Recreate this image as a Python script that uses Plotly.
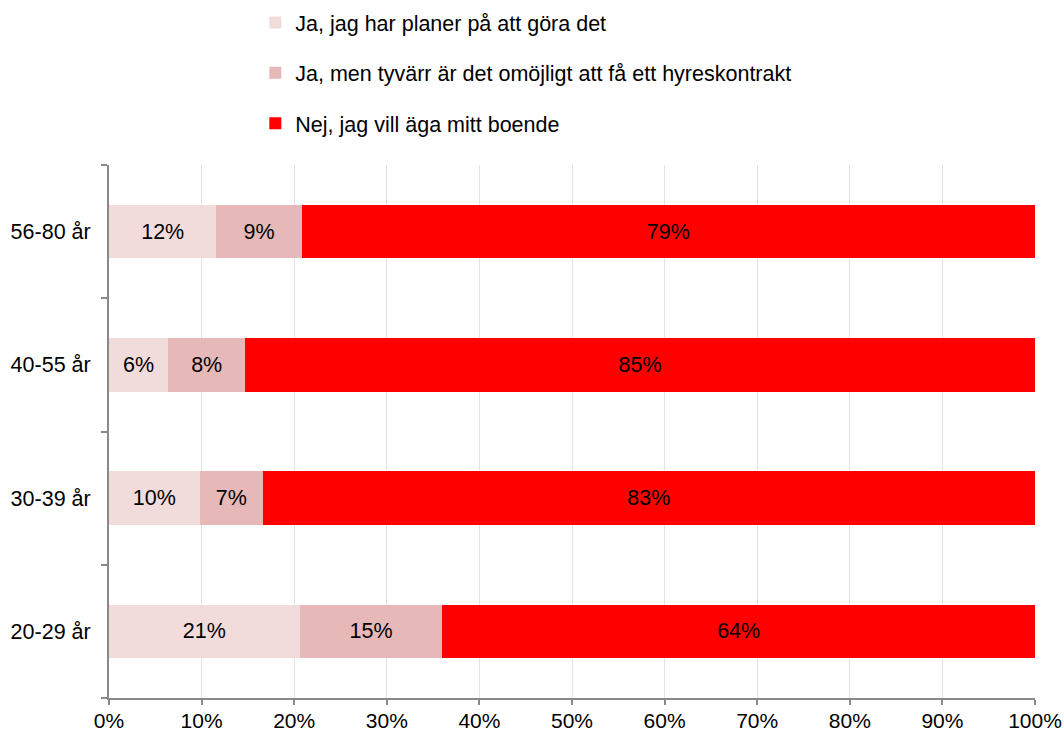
import plotly.graph_objects as go

categories = ["20-29 år", "30-39 år", "40-55 år", "56-80 år"]
series_names = [
    "Ja, jag har planer på att göra det",
    "Ja, men tyvärr är det omöjligt att få ett hyreskontrakt",
    "Nej, jag vill äga mitt boende",
]
planer = [20.6, 9.8, 6.4, 11.6]
omojligt = [15.4, 6.8, 8.3, 9.2]
aga = [64.0, 83.4, 85.3, 79.2]
colors = ["#F2DCDB", "#E6B9B8", "#FF0000"]
x_ticks = list(range(0, 101, 10))
x_tick_labels = [f"{v}%" for v in x_ticks]

FONT = "Liberation Sans, Arial, sans-serif"
FS = 21.5

fig = go.Figure()
for i, (name, vals) in enumerate(zip(series_names, [planer, omojligt, aga])):
    fig.add_trace(go.Bar(
        y=categories, x=vals, name=name, orientation="h",
        marker=dict(color=colors[i], line=dict(width=0)),
        texttemplate="%{x:.0f}%", textposition="inside",
        insidetextanchor="middle", constraintext="none",
        textfont=dict(family=FONT, size=FS, color="black"),
        legendgroup=f"g{i}", hoverinfo="skip",
    ))

fig.update_layout(
    width=1064, height=734,
    barmode="stack", bargap=0.6,
    plot_bgcolor="white", paper_bgcolor="white",
    margin=dict(l=109, r=29, t=165, b=36, autoexpand=False),
    font=dict(family=FONT, size=FS, color="black"),
    legend=dict(
        orientation="v", traceorder="grouped",
        x=0.158, xanchor="left", xref="paper",
        y=1.306, yanchor="top", yref="paper",
        tracegroupgap=19.5, font=dict(family=FONT, size=FS, color="black"),
        itemwidth=30,
    ),
    xaxis=dict(
        range=[0, 100], tickvals=x_ticks, ticktext=x_tick_labels,
        showgrid=True, gridcolor="#E3E3E3", gridwidth=1,
        showline=True, linecolor="#898989", linewidth=2,
        ticks="outside", ticklen=5, tickcolor="#898989", tickwidth=2,
        zeroline=False, automargin=False, ticklabelstandoff=-2,
        tickfont=dict(family=FONT, size=21, color="black"),
    ),
    yaxis=dict(
        categoryorder="array", categoryarray=categories,
        showline=True, linecolor="#898989", linewidth=2,
        ticks="outside", tickson="boundaries", ticklen=6,
        tickcolor="#898989", tickwidth=2, showgrid=False,
        ticklabelstandoff=12, automargin=False,
        tickfont=dict(family=FONT, size=FS, color="black"),
    ),
)

fig.write_html(
    "out.html",
    config={"displayModeBar": False},
    post_script="document.body.style.margin='0';document.body.style.overflow='hidden';",
)
